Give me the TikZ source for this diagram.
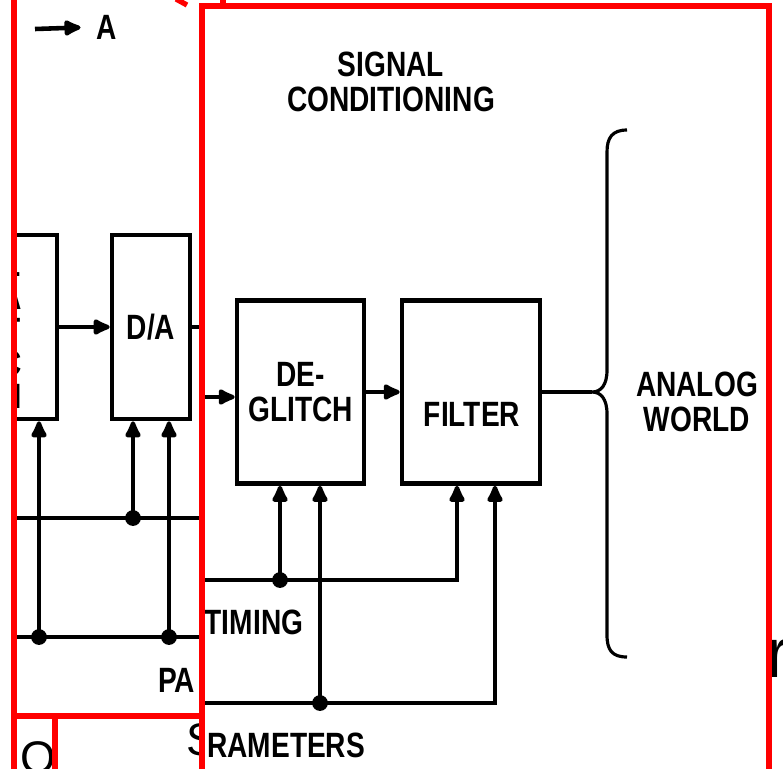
\documentclass[tikz,border=0pt]{standalone}
\usepackage{fontspec}
\setmainfont{Liberation Sans}
\newfontfamily\scanfont[FakeStretch=0.8]{Liberation Sans}
\usetikzlibrary{positioning,arrows.meta,calc}

\begin{document}
\begin{tikzpicture}[x=0.02cm,y=-0.02cm,>={Latex[length=12pt,width=11pt,round]},
  line width=2.6pt,
  blk/.style={draw,line width=2.6pt,minimum height=3.66cm,inner sep=0,
    font=\scanfont\bfseries\fontsize{20}{19.5}\selectfont,align=center},
  lbl/.style={inner sep=0,font=\scanfont\bfseries\fontsize{20}{19.5}\selectfont,align=center},
  big/.style={inner sep=0,anchor=base west,font=\fontsize{#1}{#1}\selectfont},
  frame/.style={draw=red,line width=3pt},
  dot/.style={fill,circle,inner sep=0,minimum size=9pt}]
  \useasboundingbox (0,0) rectangle (783,768);
  % stray large letters
  \node[big=26] (bigO) at (18,773) {O};
  \node[big=26] (bigS) at (184,755) {S};
  \node[big=40] (bigr) at (764,677) {r};
  % left cut-out
  \begin{scope}
    \clip (14,-10) rectangle (202,716);
    \node[lbl] (alab) at (107,27) {A};
    \coordinate (atail) at (35,29);
    \draw[->,shorten >=8pt] (atail) -- (alab.west);
    \node[blk,minimum width=2.34cm,minimum height=3.68cm] (latch) at (-1.5,327) {};
    \node[lbl,font=\scanfont\bfseries\fontsize{20}{18.8}\selectfont] (latchtxt) at (12,330) {L\\A\\T\\C\\H};
    \node[blk,minimum width=1.56cm,minimum height=3.68cm] (da) at (151,327) {D/A};
    \draw[->] (latch.east) -- (da.west);
    \coordinate (h1l) at (14,518);
    \coordinate (h1r) at (202,518);
    \coordinate (h2l) at (14,637);
    \coordinate (h2r) at (202,637);
    \draw (da.east) -- (da.east -| h1r);
    \draw (h1l) -- (h1r);
    \draw (h2l) -- (h2r);
    \node[dot] (dB) at (133,518) {};
    \node[dot] (dA) at (39,637) {};
    \node[dot] (dC) at (169,637) {};
    \draw[->] (dA.center) -- (dA |- latch.south);
    \draw[->] (dB.center) -- (dB |- da.south);
    \draw[->] (dC.center) -- (dC |- da.south);
    \node[lbl,anchor=west] (palab) at (156,680) {PA};
  \end{scope}
  % right cut-out
  \fill[white] (202,6) rectangle (769,790);
  \begin{scope}
    \clip (202,6) rectangle (769,790);
    \node[lbl] (title) at (391,82) {SIGNAL\\CONDITIONING};
    \node[blk,minimum width=2.54cm] (dg) at (300.5,392) {DE-\\GLITCH};
    \node[blk,minimum width=2.76cm] (flt) at (471,392) {};
    \node[lbl] (fltxt) at (472,414) {FILTER};
    \coordinate (inl) at (202,397);
    \draw[->] (inl) -- (inl -| dg.west);
    \draw[->] (dg.east) -- (flt.west);
    \coordinate (tip) at (592,392);
    \draw (flt.east) -- (tip);
    % brace
    \draw[line width=1.8pt] (627,130) .. controls (612,130) and (607,138) .. (607,152)
      -- (607,370) .. controls (607,385) and (601,392) .. (tip)
      .. controls (601,392) and (607,399) .. (607,414)
      -- (607,635) .. controls (607,650) and (612,657) .. (627,657);
    \node[lbl] (world) at (697,402) {ANALOG\\WORLD};
    % timing bus
    \coordinate (tl) at (202,580);
    \coordinate (tr) at (457,580);
    \node[dot] (td) at (280,580) {};
    \draw[->] (tl) -- (tr) -- (tr |- flt.south);
    \draw[->] (td.center) -- (td |- dg.south);
    \node[lbl] (timing) at (254,622) {TIMING};
    % parameter bus
    \coordinate (pl) at (202,703);
    \coordinate (pr) at (495,703);
    \node[dot] (pd) at (320,703) {};
    \draw[->] (pl) -- (pr) -- (pr |- flt.south);
    \draw[->] (pd.center) -- (pd |- dg.south);
    \node[lbl,anchor=west] (params) at (205,745) {RAMETERS};
  \end{scope}
  % red frames
  \draw[frame] (14,-5) -- (14,775);
  \draw[frame] (14,716) -- (202,716);
  \draw[frame] (55,716) -- (55,775);
  \draw[frame] (202,775) -- (202,6) -- (769,6) -- (769,775);
  \draw[frame] (223,-5) -- (223,6);
  \draw[frame] (176,-1) -- (187,5);
\end{tikzpicture}
\end{document}
